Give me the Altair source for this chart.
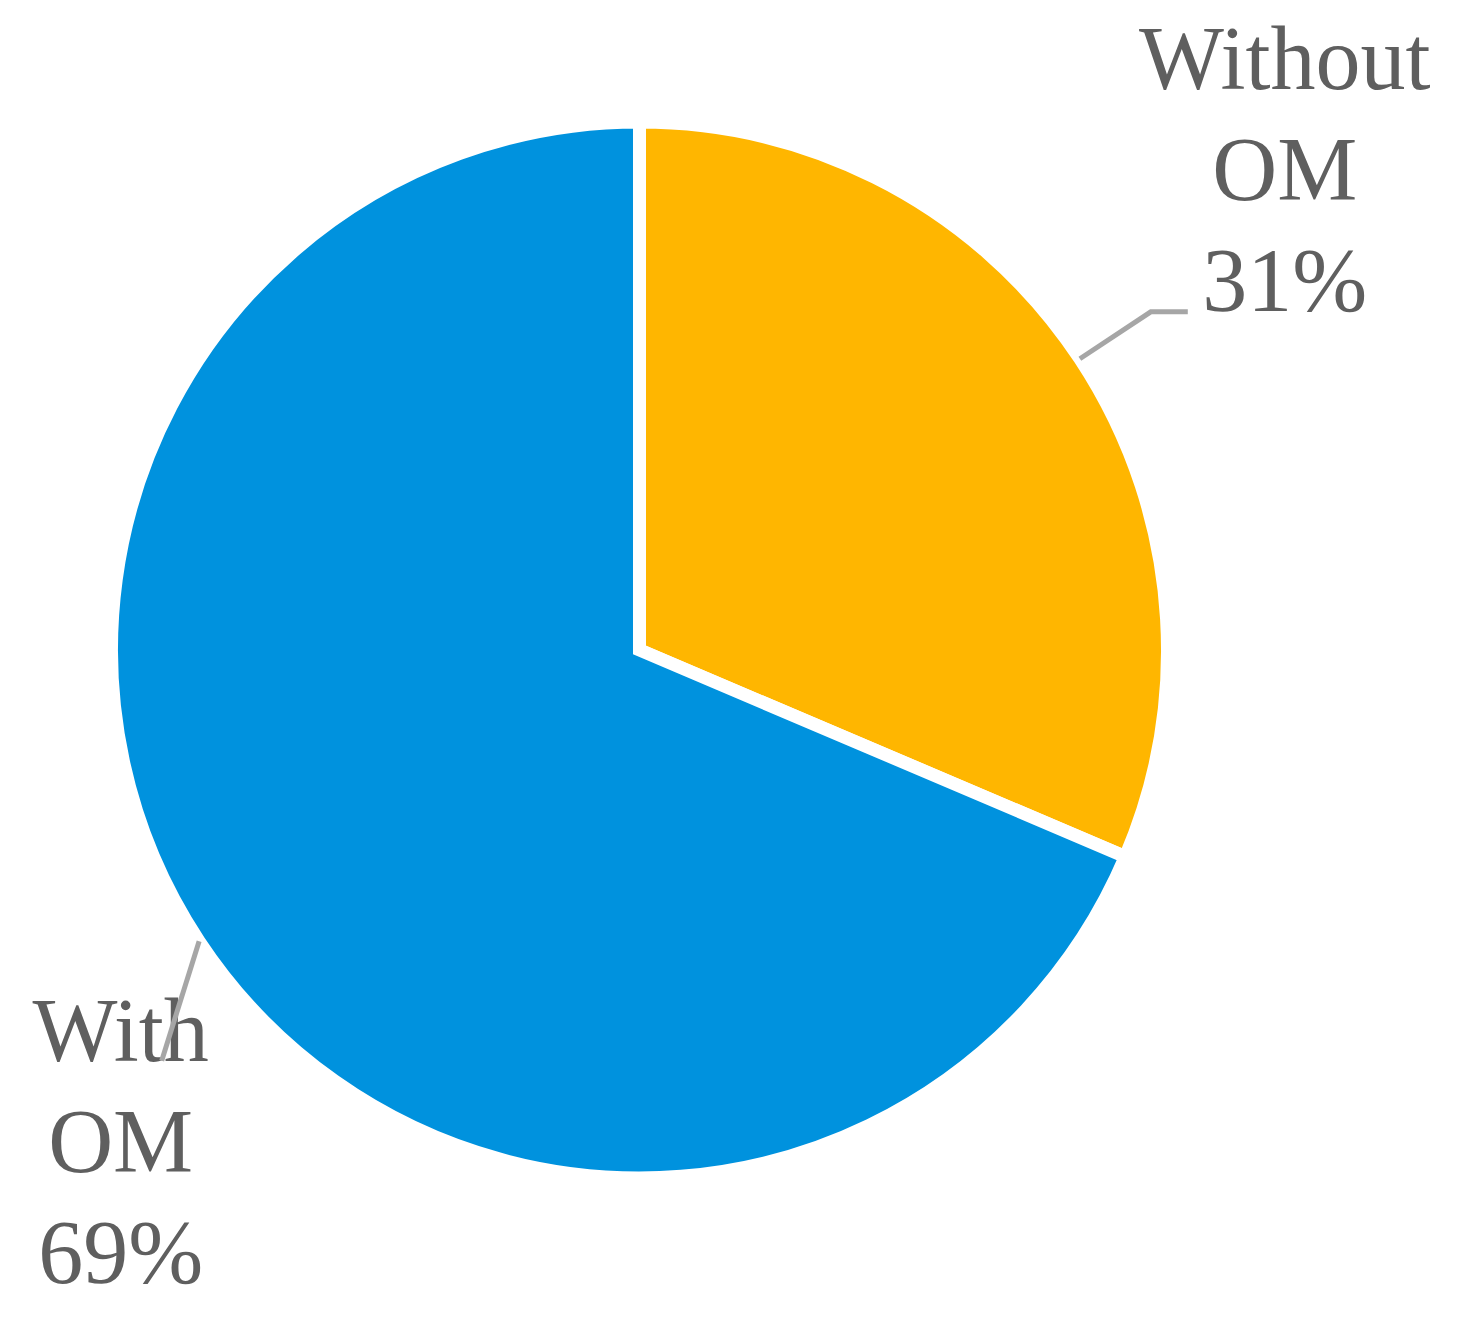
import math
import altair as alt
import pandas as pd

# ---- data ----
categories = ["Without OM", "With OM"]
values = [31.4, 68.6]
pct_labels = ["31%", "69%"]
slice_order = [0, 1]
colors = ["#FFB600", "#0092DE"]

df = pd.DataFrame({
    "category": categories,
    "value": values,
    "order": slice_order,
    "label": [c.replace(" ", "\n") + "\n" + p for c, p in zip(categories, pct_labels)],
})

# ---- layout ----
W, H = 1263, 1284          # plot area; pie centred in it
CX, CY = W / 2, H / 2
R = 528                    # pie radius
GREY_TEXT = "#5f5f5f"
GREY_LINE = "#a6a6a6"
FONT = "Liberation Serif"
FS = 90

theta = alt.Theta("value:Q", stack=True)
order = alt.Order("order:Q")
color = alt.Color("category:N", scale=alt.Scale(domain=categories, range=colors), legend=None)

arcs = alt.Chart(df).mark_arc(radius=R, stroke="white", strokeWidth=13).encode(
    theta=theta, color=color, order=order
)

def label_layer(cat, radius, dx, dy):
    return (
        alt.Chart(df)
        .transform_calculate(txt=f"datum.category == '{cat}' ? datum.label : ''")
        .mark_text(radius=radius, dx=dx, dy=dy, font=FONT, fontSize=FS, color=GREY_TEXT,
                   lineBreak="\n", lineHeight=111, align="center", baseline="alphabetic")
        .encode(theta=theta, order=order, text="txt:N")
    )

lab_without = label_layer("Without OM", 800, -22, -120)
lab_with = label_layer("With OM", 700, 65, 25)

# ---- leader lines derived from the slice mid-angles ----
total = sum(values)
cum = 0
mids = {}
for c, v in zip(categories, values):
    mids[c] = (cum + v / 2) / total * 2 * math.pi
    cum += v

def polar(a, r):
    return CX + r * math.sin(a), CY - r * math.cos(a)

rows = []
a = mids["Without OM"]
p0 = polar(a, R)
p1 = polar(a, R + 85)
p2 = (p1[0] + 37, p1[1])
for i, p in enumerate([p0, p1, p2]):
    rows.append({"g": "Without OM", "i": i, "x": p[0], "y": p[1]})
a = mids["With OM"]
q0 = polar(a, R)
q1 = polar(a - math.radians(7.2), R + 102)
for i, p in enumerate([q0, q1]):
    rows.append({"g": "With OM", "i": i, "x": p[0], "y": p[1]})
lines_df = pd.DataFrame(rows)

leaders = alt.Chart(lines_df).mark_line(color=GREY_LINE, strokeWidth=5).encode(
    x=alt.X("x:Q", scale=alt.Scale(domain=[0, W], range=[0, W]), axis=None),
    y=alt.Y("y:Q", scale=alt.Scale(domain=[0, H], range=[0, H]), axis=None),
    detail="g:N",
    order="i:Q",
)

chart = (
    alt.layer(arcs, lab_without, lab_with, leaders)
    .resolve_scale(x="independent", y="independent")
    .properties(width=W, height=H, autosize=alt.AutoSizeParams(type="none"),
                padding={"left": 0, "top": 0, "right": 190, "bottom": 24},
                view=alt.ViewBackground(strokeOpacity=0, strokeWidth=0))
    .configure_view(strokeWidth=0, strokeOpacity=0)
    .configure(background="white")
)

chart.save("out.html", embed_options={"renderer": "svg", "actions": False})
